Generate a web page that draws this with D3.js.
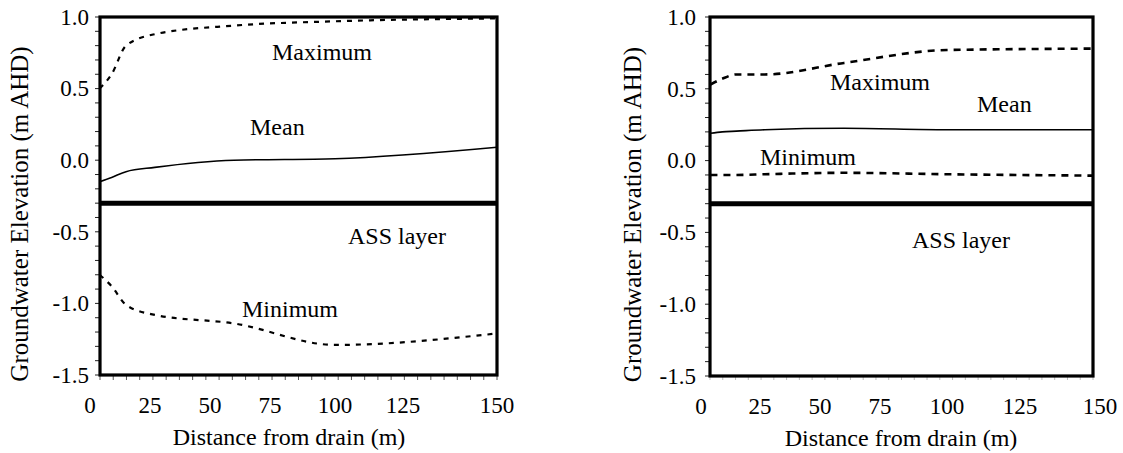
<!DOCTYPE html>
<html>
<head>
<meta charset="utf-8">
<script src="https://cdn.jsdelivr.net/npm/d3@7/dist/d3.min.js"></script>
</head>
<body style="margin:0;background:#fff">
<svg id="chart" width="1123" height="453" style="font-family: 'Liberation Serif', 'Times New Roman', Tinos, serif"></svg>
<script>
// ---------------- data ----------------
const xTickLabels = ["0", "25", "50", "75", "100", "125", "150"];
const xTickValues = [0, 25, 50, 75, 100, 125, 150];
const yTickValues = [1.0, 0.5, 0.0, -0.5, -1.0, -1.5];
const yTickLabels = ["1.0", "0.5", "0.0", "-0.5", "-1.0", "-1.5"];

const distance = [4, 9, 15, 27, 60, 100, 150];

const leftMaximum = [0.50, 0.60, 0.80, 0.88, 0.94, 0.97, 0.99];
const leftMean    = [-0.15, -0.12, -0.08, -0.05, 0.00, 0.01, 0.09];
const leftMinimum = [-0.80, -0.88, -1.01, -1.08, -1.14, -1.29, -1.21];

const rightMaximum = [0.53, 0.57, 0.60, 0.60, 0.68, 0.77, 0.78];
const rightMean    = [0.19, 0.20, 0.205, 0.215, 0.225, 0.215, 0.215];
const rightMinimum = [-0.10, -0.10, -0.10, -0.095, -0.085, -0.095, -0.105];

const assLayerLevel = -0.3;

const yTitle = "Groundwater Elevation (m AHD)";
const xTitle = "Distance from drain (m)";

// ---------------- layout ----------------
const svg = d3.select("#chart");

const panels = [
  {
    id: "L",
    frame: { left: 100, right: 497, top: 17, bottom: 375 },
    labelRange: [90, 150, 210, 270, 335, 403, 497],
    series: { max: leftMaximum, mean: leftMean, min: leftMinimum },
    labels: [
      { text: "Maximum", x: 272, y: 60 },
      { text: "Mean", x: 250, y: 135 },
      { text: "ASS layer", x: 348, y: 244 },
      { text: "Minimum", x: 242, y: 317 }
    ],
    yTitleX: 28, yTickLabelX: 89, xTitleX: 289,
    xTickColor: "#555", xTickLen: 5, dash: "5,6", dashWidth: 2.2
  },
  {
    id: "R",
    frame: { left: 710, right: 1093, top: 17, bottom: 376 },
    labelRange: [701, 760, 820, 880, 947, 1020, 1100],
    series: { max: rightMaximum, mean: rightMean, min: rightMinimum },
    labels: [
      { text: "Maximum", x: 830, y: 90 },
      { text: "Mean", x: 977, y: 112 },
      { text: "Minimum", x: 760, y: 165 },
      { text: "ASS layer", x: 912, y: 248 }
    ],
    yTitleX: 641, yTickLabelX: 696, xTitleX: 901,
    xTickColor: "#bbb", xTickLen: 4, dash: "7,6", dashWidth: 2.6
  }
];

const defs = svg.append("defs");

panels.forEach(p => {
  const f = p.frame;
  const g = svg.append("g");

  const y = d3.scaleLinear().domain([-1.5, 1.0]).range([f.bottom, f.top]);
  const xLab = d3.scaleLinear().domain(xTickValues).range(p.labelRange);
  const xFrame = d3.scaleLinear().domain([0, 150]).range([f.left, f.right]);

  defs.append("clipPath").attr("id", "clip" + p.id)
    .append("rect")
    .attr("x", xFrame(0)).attr("y", y(1.0))
    .attr("width", xFrame(150) - xFrame(0))
    .attr("height", y(-1.5) - y(1.0));

  const yMinor = d3.range(-15, 11).map(d => d / 10);
  g.append("g").selectAll("line").data(yMinor).join("line")
    .attr("x1", f.left - 5).attr("x2", f.left)
    .attr("y1", d => y(d)).attr("y2", d => y(d))
    .attr("stroke", "#222").attr("stroke-width", 1);

  g.append("g").selectAll("text").data(yTickValues).join("text")
    .style("font-family", d => `"Liberation Serif"`)
    .attr("x", p.yTickLabelX)
    .attr("y", d => y(d))
    .attr("dy", "0.34em")
    .attr("text-anchor", "end")
    .style("font-size", "23px")
    .text((d, i) => yTickLabels[i]);

  const xMinor = d3.range(0, 151, 5);
  g.append("g").selectAll("line").data(xMinor).join("line")
    .attr("x1", d => xFrame(d)).attr("x2", d => xFrame(d))
    .attr("y1", f.bottom).attr("y2", f.bottom + p.xTickLen)
    .attr("stroke", p.xTickColor).attr("stroke-width", 1);

  g.append("g").selectAll("text").data(xTickValues).join("text")
    .style("font-family", d => `"Liberation Serif"`)
    .attr("x", d => xLab(d))
    .attr("y", f.bottom + 38)
    .attr("text-anchor", "middle")
    .style("font-size", "23px")
    .text((d, i) => xTickLabels[i]);

  g.append("rect")
    .attr("x", xFrame(0)).attr("y", y(1.0))
    .attr("width", xFrame(150) - xFrame(0))
    .attr("height", y(-1.5) - y(1.0))
    .attr("fill", "none").attr("stroke", "#000").attr("stroke-width", 3.2);

  g.append("line")
    .attr("x1", xFrame(0)).attr("x2", xFrame(150))
    .attr("y1", y(assLayerLevel)).attr("y2", y(assLayerLevel))
    .attr("stroke", "#000").attr("stroke-width", 5);

  const line = d3.line()
    .x((d, i) => xLab(distance[i]))
    .y(d => y(d))
    .curve(d3.curveMonotoneX);

  const sg = g.append("g").attr("clip-path", `url(#clip${p.id})`);

  sg.append("path").datum(p.series.max)
    .attr("d", line).attr("fill", "none")
    .attr("stroke", "#000").attr("stroke-width", p.dashWidth)
    .attr("stroke-dasharray", p.dash);

  sg.append("path").datum(p.series.mean)
    .attr("d", line).attr("fill", "none")
    .attr("stroke", "#000").attr("stroke-width", 1.6);

  sg.append("path").datum(p.series.min)
    .attr("d", line).attr("fill", "none")
    .attr("stroke", "#000").attr("stroke-width", p.dashWidth)
    .attr("stroke-dasharray", p.dash);

  g.append("g").selectAll("text").data(p.labels).join("text")
    .style("font-family", d => `"Liberation Serif"`)
    .attr("x", d => d.x).attr("y", d => d.y)
    .style("font-size", "24px")
    .text(d => d.text);

  g.append("text")
    .style("font-family", `"Liberation Serif"`)
    .attr("transform", `translate(${p.yTitleX},${(f.top + f.bottom) / 2 + 18}) rotate(-90)`)
    .attr("text-anchor", "middle")
    .style("font-size", "25px")
    .text(yTitle);

  g.append("text")
    .style("font-family", `"Liberation Serif"`)
    .attr("x", p.xTitleX).attr("y", f.bottom + 70)
    .attr("text-anchor", "middle")
    .style("font-size", "24px")
    .text(xTitle);
});
</script>
</body>
</html>
